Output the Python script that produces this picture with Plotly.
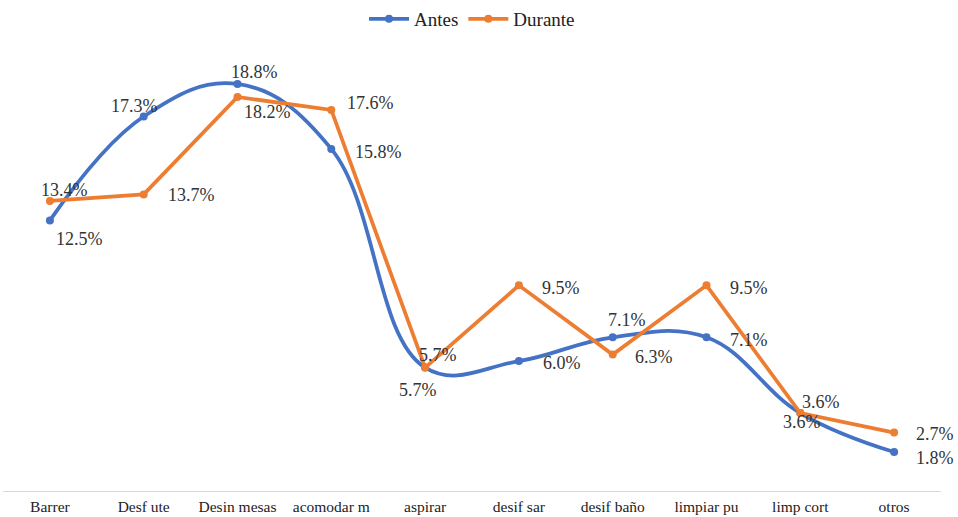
import plotly.graph_objects as go

categories = ["Barrer", "Desf ute", "Desin mesas", "acomodar m", "aspirar",
              "desif sar", "desif baño", "limpiar pu", "limp cort", "otros"]
antes = [12.5, 17.3, 18.8, 15.8, 5.7, 6.0, 7.1, 7.1, 3.6, 1.8]
durante = [13.4, 13.7, 18.2, 17.6, 5.7, 9.5, 6.3, 9.5, 3.6, 2.7]

# label offsets (px) for each point
antes_off = [(30, -19), (-9, 10), (17, 12), (47, -3), (-7, -22), (43, -2),
             (14, 17), (42, -3), (2, -9), (41, -6)]
durante_off = [(15, 11), (48, -1), (30, -15), (39, 7), (13, 13), (42, -3),
               (41, -2), (42, -3), (21, 11), (41, -1)]

BLUE = "#4472C4"
ORANGE = "#ED7D31"
FONT = "Liberation Serif, Times New Roman, serif"

fig = go.Figure()
fig.add_trace(go.Scatter(x=categories, y=antes, name="Antes", mode="lines+markers",
                         line=dict(color=BLUE, width=3.75, shape="spline", smoothing=1.15),
                         marker=dict(size=8, color=BLUE)))
fig.add_trace(go.Scatter(x=categories, y=durante, name="Durante", mode="lines+markers",
                         line=dict(color=ORANGE, width=3.75),
                         marker=dict(size=8, color=ORANGE)))

annotations = []
for vals, offs in ((antes, antes_off), (durante, durante_off)):
    for c, v, (dx, dy) in zip(categories, vals, offs):
        annotations.append(dict(x=c, y=v, text=f"{v:.1f}%", showarrow=False,
                                xshift=dx, yshift=dy, borderpad=0,
                                font=dict(family=FONT, size=18, color="#333333")))

fig.update_layout(
    width=958, height=517,
    margin=dict(l=3, r=17, t=58, b=26, autoexpand=False),
    paper_bgcolor="white", plot_bgcolor="white",
    font=dict(family=FONT, size=15, color="#222222"),
    showlegend=True,
    legend=dict(orientation="h", x=0.5, xanchor="center", y=1.0, yanchor="top",
                yref="container", itemwidth=40,
                font=dict(family=FONT, size=19, color="#222222")),
    annotations=annotations,
)
fig.update_xaxes(range=[-0.5, 9.5], showgrid=False, showline=True, linecolor="#D9D9D9",
                 linewidth=1, ticks="", automargin=False, ticklabelstandoff=1,
                 tickfont=dict(family=FONT, size=15.5, color="#222222"))
fig.update_yaxes(range=[0, 20], showgrid=False, showticklabels=False, zeroline=False,
                 showline=False, automargin=False)

fig.write_html("out.html", config={"displayModeBar": False},
               post_script="document.body.style.margin='0';document.body.style.overflow='hidden';")
